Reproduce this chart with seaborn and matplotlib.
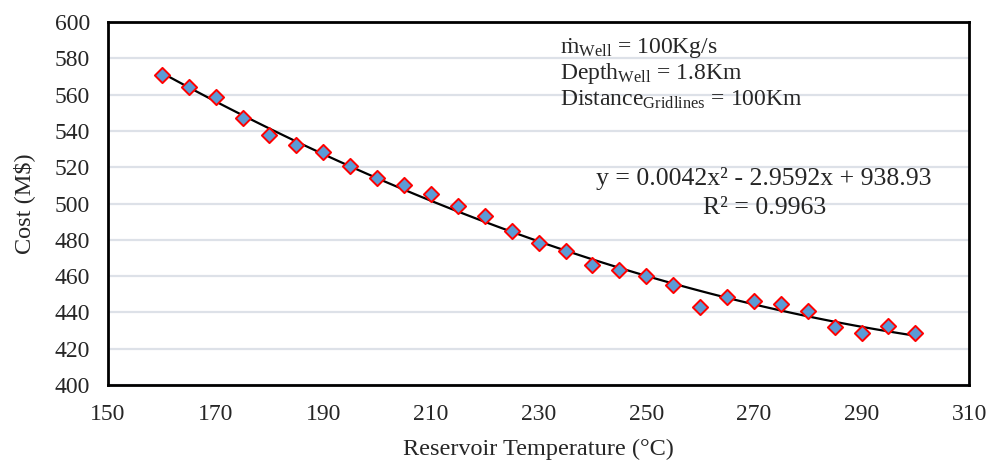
import numpy as np
import pandas as pd
import matplotlib
matplotlib.use('Agg')
import matplotlib.pyplot as plt
import seaborn as sns

# data
temperature = [160, 165, 170, 175, 180, 185, 190, 195, 200, 205, 210, 215, 220, 225, 230,
               235, 240, 245, 250, 255, 260, 265, 270, 275, 280, 285, 290, 295, 300]
cost = [571, 564, 559, 547, 538, 532, 528.5, 520.5, 514, 510, 505, 498.5, 493, 485, 478,
        474, 466, 463.5, 460, 455, 443, 448.5, 446.5, 444.5, 440.5, 432, 428.5, 432.5, 428.5]

x_ticks = list(range(150, 311, 20))
y_ticks = list(range(400, 601, 20))

df = pd.DataFrame({'temp': temperature, 'cost': cost})

sns.set_style('white')
plt.rcParams['font.family'] = ['Liberation Serif', 'DejaVu Serif']
plt.rcParams['mathtext.fontset'] = 'custom'
plt.rcParams['mathtext.rm'] = 'Liberation Serif'
plt.rcParams['mathtext.it'] = 'Liberation Serif:italic'

fig = plt.figure(figsize=(9.91, 4.62), dpi=100)
ax = fig.add_axes([0.109, 0.167, 0.869, 0.785])

# polynomial trendline (order 2) and the points
sns.regplot(data=df, x='temp', y='cost', order=2, ci=None, scatter=False,
            line_kws={'color': 'black', 'lw': 1.6}, ax=ax)
sns.scatterplot(data=df, x='temp', y='cost', marker='D', s=60, color='#5B9BD5',
                edgecolor='#FF0000', linewidth=1.4, zorder=3, ax=ax)

ax.set_xlim(150, 310)
ax.set_ylim(400, 600)
ax.set_xticks(x_ticks)
ax.set_yticks(y_ticks)
ax.yaxis.grid(True, color='#DDE1E8', lw=1.6)
ax.set_axisbelow(True)
for s in ax.spines.values():
    s.set_color('black')
    s.set_linewidth(2)
ax.tick_params(axis='x', labelsize=17, length=0, pad=14)
ax.tick_params(axis='y', labelsize=17, length=0, pad=13)

ax.set_xlabel('Reservoir Temperature (°C)', fontsize=17.5, labelpad=10)
ax.set_ylabel('Cost (M\\$)', fontsize=17.5, labelpad=14)

# annotations
ax.text(0.525, 0.928, 'ṁ$_{\\mathrm{Well}}$ = 100Kg/s', transform=ax.transAxes,
        fontsize=17, va='center', ha='left')
ax.text(0.525, 0.859, 'Depth$_{\\mathrm{Well}}$ = 1.8Km', transform=ax.transAxes,
        fontsize=17, va='center', ha='left')
ax.text(0.525, 0.785, 'Distance$_{\\mathrm{Gridlines}}$ = 100Km', transform=ax.transAxes,
        fontsize=17, va='center', ha='left')
ax.text(0.762, 0.570, 'y = 0.0042x² - 2.9592x + 938.93', transform=ax.transAxes,
        fontsize=18.5, va='center', ha='center')
ax.text(0.762, 0.488, 'R² = 0.9963', transform=ax.transAxes,
        fontsize=18.5, va='center', ha='center')

fig.savefig('out.png', dpi=100)
